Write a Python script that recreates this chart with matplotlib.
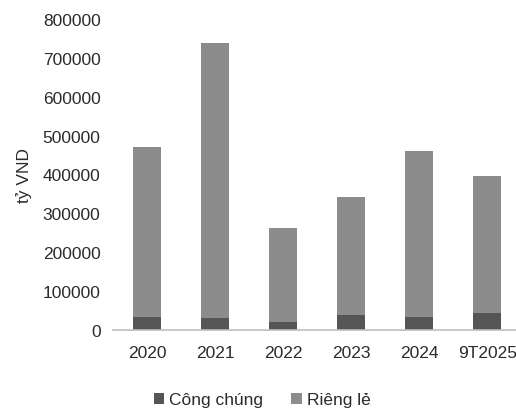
import matplotlib.pyplot as plt
import numpy as np

plt.rcParams["font.family"] = ["Liberation Sans", "DejaVu Sans"]

years = ["2020", "2021", "2022", "2023", "2024", "9T2025"]
cong_chung = [33000, 30000, 21000, 38000, 33000, 44000]
rieng_le = [439000, 708000, 241000, 304000, 427000, 352000]
yticks = [0, 100000, 200000, 300000, 400000, 500000, 600000, 700000, 800000]

dark = "#555555"
light = "#8c8c8c"
text_color = "#2b2b2b"

fig = plt.figure(figsize=(5.16, 4.14), dpi=100)
ax = fig.add_axes([0.219, 0.2005, 0.781, 0.7512])

x = np.arange(len(years))
ax.bar(x, cong_chung, width=0.41, color=dark, label="Công chúng")
ax.bar(x, rieng_le, width=0.41, bottom=cong_chung, color=light, label="Riêng lẻ")

ax.set_xlim(-0.5, 5.42)
ax.set_ylim(0, 800000)
ax.set_xticks(x)
ax.set_xticklabels(years)
ax.set_yticks(yticks)
ax.set_yticklabels([str(v) for v in yticks])
ax.tick_params(length=0, labelsize=12.5, colors=text_color)
ax.tick_params(axis="y", pad=9)
ax.tick_params(axis="x", pad=11)

for side in ["left", "right", "top"]:
    ax.spines[side].set_visible(False)
ax.spines["bottom"].set_color("#bdbdbd")
ax.spines["bottom"].set_linewidth(1.2)

ax.set_ylabel("tỷ VND", fontsize=12.5, color=text_color)
ax.yaxis.set_label_coords(-0.2, 0.5)

fig.legend(loc="center", bbox_to_anchor=(0.508, 0.032), ncol=2, frameon=False,
           fontsize=12.5, handlelength=0.6, handleheight=0.6, handletextpad=0.3,
           columnspacing=1.6, labelcolor=text_color)

fig.savefig("out.png", dpi=100)
